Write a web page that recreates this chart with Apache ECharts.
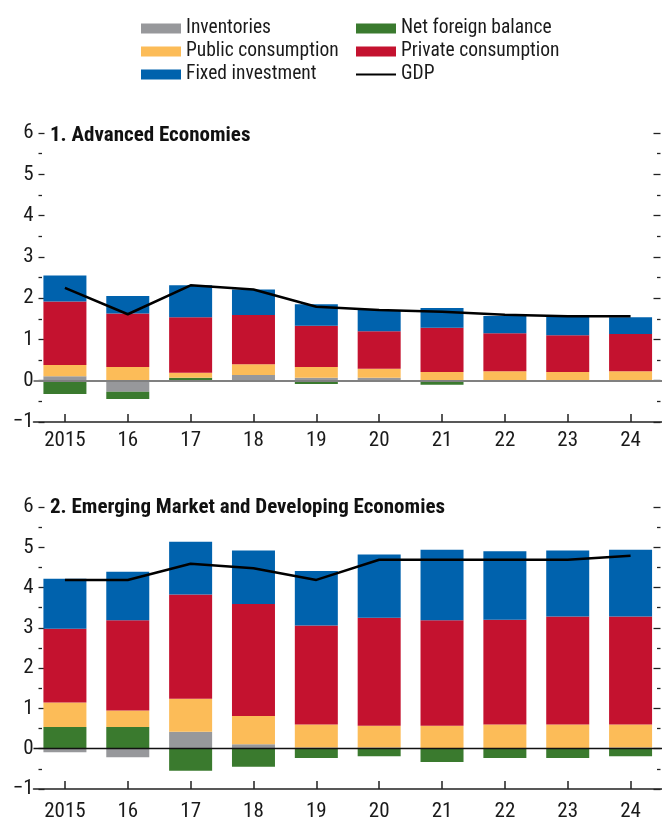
<!DOCTYPE html>
<html><head><meta charset="utf-8">
<script src="https://cdn.jsdelivr.net/npm/echarts@6/dist/echarts.min.js"></script>
<style>html,body{margin:0;padding:0;background:#fff}#c{width:662px;height:822px}</style>
</head><body><div id="c"></div>
<script>
const years = ['2015','16','17','18','19','20','21','22','23','24'];
const yTicks = [-1,0,1,2,3,4,5,6];

// Panel 1: Advanced Economies
const aeInventories = [0.11, -0.27, 0.00, 0.14, 0.07, 0.07, 0.01, 0.01, 0.01, 0.01];
const aeNetForeign  = [-0.32, -0.17, 0.07, -0.03, -0.08, -0.03, -0.10, -0.02, -0.02, -0.02];
const aePublic      = [0.27, 0.33, 0.12, 0.26, 0.26, 0.22, 0.20, 0.22, 0.20, 0.22];
const aePrivate     = [1.54, 1.30, 1.35, 1.19, 1.00, 0.91, 1.07, 0.92, 0.89, 0.90];
const aeFixed       = [0.63, 0.42, 0.77, 0.62, 0.52, 0.51, 0.48, 0.42, 0.45, 0.41];
const aeGDP         = [2.25, 1.61, 2.31, 2.21, 1.79, 1.71, 1.67, 1.60, 1.56, 1.56];

// Panel 2: Emerging Market and Developing Economies
const emInventories = [-0.09, -0.21, 0.42, 0.11, 0.03, 0.03, 0.02, 0.02, 0.02, 0.03];
const emNetForeign  = [0.54, 0.54, -0.55, -0.45, -0.23, -0.19, -0.33, -0.23, -0.23, -0.19];
const emPublic      = [0.61, 0.41, 0.82, 0.70, 0.57, 0.54, 0.55, 0.58, 0.58, 0.57];
const emPrivate     = [1.83, 2.24, 2.59, 2.78, 2.46, 2.68, 2.62, 2.60, 2.68, 2.68];
const emFixed       = [1.24, 1.20, 1.31, 1.33, 1.35, 1.57, 1.75, 1.70, 1.64, 1.66];
const emGDP         = [4.19, 4.19, 4.59, 4.48, 4.19, 4.69, 4.69, 4.69, 4.69, 4.79];

const titles = ['1. Advanced Economies', '2. Emerging Market and Developing Economies'];

const C = {inv:'#97989B', nfb:'#3A7A2E', pub:'#FCBC58', priv:'#C4122F', fix:'#0062AD'};
const FONT = '"Roboto Condensed","Liberation Sans Narrow",sans-serif';

const chart = echarts.init(document.getElementById('c'), null, {renderer:'canvas'});

const grids = [
  {left:33.5, width:630, top:133, height:289},
  {left:33.5, width:630, top:507, height:287}
];

function xAxisFor(i){
  return {
    type:'category', gridIndex:i, data:years,
    axisLine:{onZero:false, lineStyle:{color:'#222', width:1.5}},
    axisTick:{show:true, inside:true, alignWithLabel:true, length:8, lineStyle:{color:'#222', width:1.5}},
    axisLabel:{color:'#1a1a1a', fontFamily:FONT, fontSize:21, margin:i===0?8:12},
    splitLine:{show:false}
  };
}
function yAxesFor(i){
  const base = {
    type:'value', gridIndex:i, min:yTicks[0], max:yTicks[yTicks.length-1], interval:1,
    splitLine:{show:false}, axisLine:{show:false},
    minorTick:{show:true, splitNumber:2, length:3.5, lineStyle:{color:'#222', width:1.3}}
  };
  return [
    Object.assign({}, base, {
      position:'left', offset:-5,
      axisTick:{show:true, inside:true, length:6, lineStyle:{color:'#222', width:1.3}},
      axisLabel:{color:'#1a1a1a', fontFamily:FONT, fontSize:21, margin:5,
        formatter:v => String(v).replace('-', '\u2212')}
    }),
    Object.assign({}, base, {
      position:'right', offset:-1.5,
      axisTick:{show:true, inside:true, length:7, lineStyle:{color:'#222', width:1.3}},
      axisLabel:{show:false}
    })
  ];
}

function barSeries(name, data, color, i){
  return {
    name, type:'bar', stack:'s'+i, data, xAxisIndex:i, yAxisIndex:i*2,
    barWidth:43, itemStyle:{color}, emphasis:{disabled:true}, silent:true
  };
}

const series = [];
const panels = [
  [aeInventories, aeNetForeign, aePublic, aePrivate, aeFixed, aeGDP],
  [emInventories, emNetForeign, emPublic, emPrivate, emFixed, emGDP]
];
panels.forEach((p, i) => {
  series.push(barSeries('Inventories', p[0], C.inv, i));
  series.push(barSeries('Net foreign balance', p[1], C.nfb, i));
  series.push(barSeries('Public consumption', p[2], C.pub, i));
  series.push(barSeries('Private consumption', p[3], C.priv, i));
  series.push(barSeries('Fixed investment', p[4], C.fix, i));
  series.push({
    name:'GDP', type:'line', data:p[5], xAxisIndex:i, yAxisIndex:i*2,
    symbol:'none', showSymbol:false, z:4, silent:true,
    lineStyle:{color:'#000', width:2.5}, itemStyle:{color:'#000'},
    markLine:{
      silent:true, symbol:'none', label:{show:false}, z:3,
      lineStyle:{type:'solid', color: i===0 ? '#808080' : '#111', width: i===0 ? 2 : 1.3},
      data:[{yAxis:0}]
    }
  });
});

const legendCommon = {
  orient:'vertical', itemWidth:40, itemHeight:10, itemGap:3, top:18.5, padding:0,
  selectedMode:false,
  textStyle:{fontFamily:FONT, fontSize:19.5, color:'#1a1a1a', lineHeight:18}
};

chart.setOption({
  animation:false,
  backgroundColor:'#fff',
  title: titles.map((t, i) => ({
    text:t, left:50, top: i===0 ? 125 : 497, padding:0,
    textStyle:{fontFamily:FONT, fontWeight:'bold', fontSize:21, color:'#111', lineHeight:22}
  })),
  legend:[
    Object.assign({}, legendCommon, {left:141, data:[
      {name:'Inventories', icon:'rect'},
      {name:'Public consumption', icon:'rect'},
      {name:'Fixed investment', icon:'rect'}
    ]}),
    Object.assign({}, legendCommon, {left:356, data:[
      {name:'Net foreign balance', icon:'rect'},
      {name:'Private consumption', icon:'rect'},
      {name:'GDP', icon:'path://M0,0 M0,4 L40,4 L40,6 L0,6 Z M40,10'}
    ]})
  ],
  grid:grids,
  xAxis:[xAxisFor(0), xAxisFor(1)],
  yAxis:[...yAxesFor(0), ...yAxesFor(1)],
  series
});
</script>
</body></html>
